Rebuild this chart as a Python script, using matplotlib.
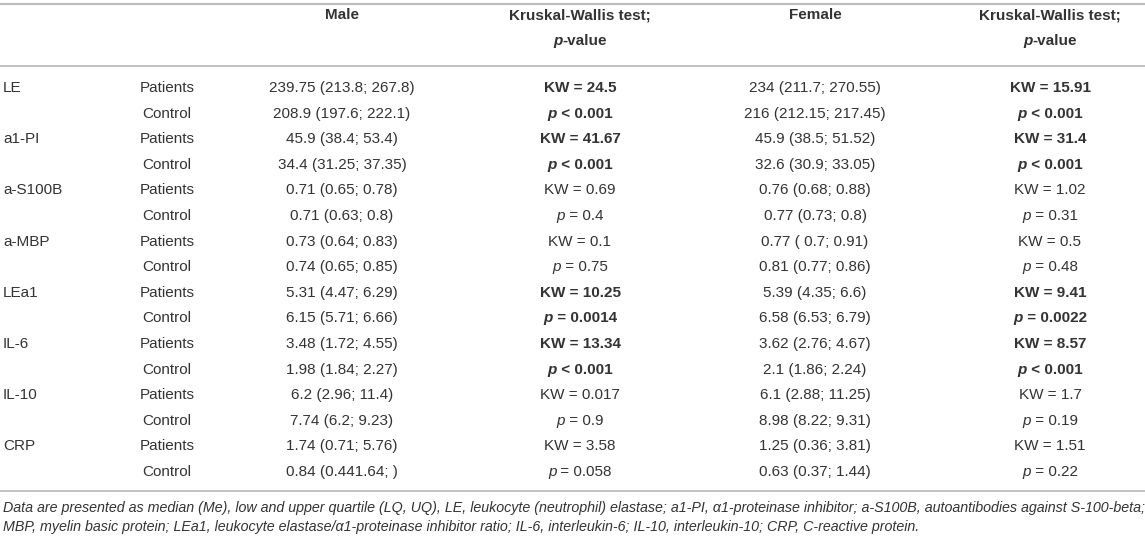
import matplotlib
matplotlib.use("Agg")
import matplotlib.pyplot as plt

# table content
markers = ["LE", "a1-PI", "a-S100B", "a-MBP", "LEa1", "IL-6", "IL-10", "CRP"]
groups = ["Patients", "Control"]

male_vals = ["239.75 (213.8; 267.8)", "208.9 (197.6; 222.1)",
             "45.9 (38.4; 53.4)", "34.4 (31.25; 37.35)",
             "0.71 (0.65; 0.78)", "0.71 (0.63; 0.8)",
             "0.73 (0.64; 0.83)", "0.74 (0.65; 0.85)",
             "5.31 (4.47; 6.29)", "6.15 (5.71; 6.66)",
             "3.48 (1.72; 4.55)", "1.98 (1.84; 2.27)",
             "6.2 (2.96; 11.4)", "7.74 (6.2; 9.23)",
             "1.74 (0.71; 5.76)", "0.84 (0.441.64; )"]
female_vals = ["234 (211.7; 270.55)", "216 (212.15; 217.45)",
               "45.9 (38.5; 51.52)", "32.6 (30.9; 33.05)",
               "0.76 (0.68; 0.88)", "0.77 (0.73; 0.8)",
               "0.77 ( 0.7; 0.91)", "0.81 (0.77; 0.86)",
               "5.39 (4.35; 6.6)", "6.58 (6.53; 6.79)",
               "3.62 (2.76; 4.67)", "2.1 (1.86; 2.24)",
               "6.1 (2.88; 11.25)", "8.98 (8.22; 9.31)",
               "1.25 (0.36; 3.81)", "0.63 (0.37; 1.44)"]

male_kw = ["24.5", "41.67", "0.69", "0.1", "10.25", "13.34", "0.017", "3.58"]
male_p = ["< 0.001", "< 0.001", "= 0.4", "= 0.75", "= 0.0014", "< 0.001", "= 0.9", "= 0.058"]
female_kw = ["15.91", "31.4", "1.02", "0.5", "9.41", "8.57", "1.7", "1.51"]
female_p = ["< 0.001", "< 0.001", "= 0.31", "= 0.48", "= 0.0022", "< 0.001", "= 0.19", "= 0.22"]
significant = [True, True, False, False, True, True, False, False]

footnote = ["Data are presented as median (Me), low and upper quartile (LQ, UQ), LE, leukocyte (neutrophil) elastase; "
            "a1-PI, \u03b11-proteinase inhibitor; a-S100B, autoantibodies against S-100-beta;",
            "MBP, myelin basic protein; LEa1, leukocyte elastase/\u03b11-proteinase inhibitor ratio; IL-6, interleukin-6; "
            "IL-10, interleukin-10; CRP, C-reactive protein."]

W, H = 1145, 540
FONT = "Liberation Sans"
FS = 11
TXT = "#333333"
LINE = "#bdbdbd"

fig = plt.figure(figsize=(W / 100, H / 100), dpi=100)
ax = fig.add_axes([0, 0, 1, 1])
ax.set_xlim(0, W)
ax.set_ylim(H, 0)
ax.axis("off")
renderer = fig.canvas.get_renderer()

# column positions
x_marker, x_group, x_male, x_mkw, x_female, x_fkw = 3, 167, 342, 580, 815, 1050
row0, row_h = 88, 25.6


def txt(x, y, s, ha="center", weight="normal", style="normal", size=FS):
    return ax.text(x, y, s, ha=ha, va="center", fontsize=size, family=FONT,
                   weight=weight, style=style, color=TXT)


def mixed(x, y, parts, weight="normal"):
    # parts: list of (text, style); drawn side by side, centred on x
    objs = []
    for s, st in parts:
        objs.append(txt(0, y, s, ha="left", weight=weight, style=st))
    widths = [o.get_window_extent(renderer=renderer).width for o in objs]
    cur = x - sum(widths) / 2
    for o, w in zip(objs, widths):
        o.set_x(cur)
        cur += w


# rules
ax.plot([0, W], [4, 4], color=LINE, lw=1.6, solid_capstyle="butt")
ax.plot([0, W], [66, 66], color=LINE, lw=1.3, solid_capstyle="butt")
ax.plot([0, W], [491, 491], color=LINE, lw=1.3, solid_capstyle="butt")

# header
txt(x_male, 15, "Male", weight="bold")
txt(x_female, 15, "Female", weight="bold")
for xc in (x_mkw, x_fkw):
    txt(xc, 15, "Kruskal-Wallis test;", weight="bold")
    mixed(xc, 41, [("p", "italic"), ("-value", "normal")], weight="bold")

# body
for i, m in enumerate(markers):
    for j, g in enumerate(groups):
        k = 2 * i + j
        y = row0 + k * row_h
        if j == 0:
            txt(x_marker, y, m, ha="left")
        txt(x_group, y, g)
        txt(x_male, y, male_vals[k])
        txt(x_female, y, female_vals[k])
        w = "bold" if significant[i] else "normal"
        if j == 0:
            txt(x_mkw, y, "KW = " + male_kw[i], weight=w)
            txt(x_fkw, y, "KW = " + female_kw[i], weight=w)
        else:
            mixed(x_mkw, y, [("p", "italic"), (" " + male_p[i], "normal")], weight=w)
            mixed(x_fkw, y, [("p", "italic"), (" " + female_p[i], "normal")], weight=w)

# footnote
for n, line in enumerate(footnote):
    txt(3, 508 + n * 19, line, ha="left", style="italic", size=10.25)

fig.savefig("out.png", dpi=100)
